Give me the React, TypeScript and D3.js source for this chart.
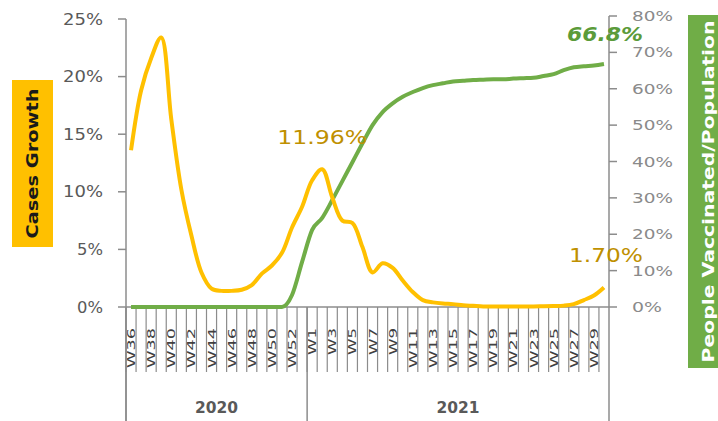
import React from "react";
import * as d3 from "d3";

const weeks2020 = ["W36","W37","W38","W39","W40","W41","W42","W43","W44","W45","W46","W47","W48","W49","W50","W51","W52","W53"];
const weeks2021 = ["W1","W2","W3","W4","W5","W6","W7","W8","W9","W10","W11","W12","W13","W14","W15","W16","W17","W18","W19","W20","W21","W22","W23","W24","W25","W26","W27","W28","W29","W30"];
const years = ["2020", "2021"];

const casesGrowth = [
  13.6, 18.8, 21.6, 23.4, 16.3, 10.2, 6.2, 3.0, 1.6, 1.4, 1.4, 1.5, 1.9, 2.9, 3.6, 4.7, 6.9, 8.7,
  11.0, 11.96, 9.5, 7.5, 7.3, 5.2, 3.0, 3.8, 3.4, 2.3, 1.3, 0.6, 0.4, 0.3, 0.25, 0.15, 0.1, 0.05,
  0.05, 0.05, 0.05, 0.05, 0.05, 0.06, 0.08, 0.12, 0.25, 0.6, 1.0, 1.70,
];
const vaccinated = [
  0, 0, 0, 0, 0, 0, 0, 0, 0, 0, 0, 0, 0, 0, 0, 0, 3.3, 12.4,
  21.2, 24.5, 29.4, 34.6, 39.8, 45, 50, 53.6, 56, 57.8, 59.1, 60.2, 61, 61.5, 62, 62.2, 62.4, 62.5,
  62.6, 62.6, 62.8, 62.9, 63.0, 63.5, 64.0, 65.1, 65.9, 66.2, 66.4, 66.8,
];

const leftTicks = [0, 5, 10, 15, 20, 25];
const rightTicks = [0, 10, 20, 30, 40, 50, 60, 70, 80];

const W = 718;
const H = 421;
const X0 = 126;
const X1 = 609;
const Y0 = 307;

export default function App() {
  const cats = [
    ...weeks2020.map((w) => ({ year: years[0], w, idx: 0 })),
    ...weeks2021.map((w) => ({ year: years[1], w, idx: 0 })),
  ];
  const inYear: Record<string, number> = {};
  cats.forEach((c) => {
    c.idx = inYear[c.year] ?? 0;
    inYear[c.year] = c.idx + 1;
  });
  const keys = cats.map((c) => c.year + "-" + c.w);
  const x = d3.scaleBand<string>().domain(keys).range([X0, X1]).padding(0);
  const bw = x.bandwidth();
  const cx = (i: number) => (x(keys[i]) as number) + bw / 2;

  const yL = d3.scaleLinear().domain([0, 25]).range([Y0, 19]);
  const yR = d3.scaleLinear().domain([0, 80]).range([Y0, 16]);

  const lineL = d3
    .line<number>()
    .x((_, i) => cx(i))
    .y((d) => yL(d))
    .curve(d3.curveCatmullRom.alpha(0.5));
  const lineR = d3
    .line<number>()
    .x((_, i) => cx(i))
    .y((d) => yR(d))
    .curve(d3.curveMonotoneX);

  const axisColor = "#8c8c8c";
  const yearStart = (yr: string) => x(keys[cats.findIndex((c) => c.year === yr)]) as number;
  const yearBounds = years.map((yr, i) => {
    const s = yearStart(yr);
    const e = i < years.length - 1 ? yearStart(years[i + 1]) : X1;
    return { yr, s, e };
  });

  const lastI = casesGrowth.length - 1;
  const peakI = casesGrowth.indexOf(d3.max(casesGrowth.slice(10)) as number);

  return (
    <svg
      width={W}
      height={H}
      style={{ position: "absolute", left: 0, top: 0, background: "#fff" }}
      fontFamily="'DejaVu Sans', sans-serif"
    >
      {/* Left axis title */}
      <rect x={12} y={80} width={41} height={167} fill="#FFC000" />
      <text
        transform={`translate(38,163.5) rotate(-90)`}
        textAnchor="middle"
        fontSize={16}
        fontWeight="bold"
        fill="#1a1a1a"
        textLength={150}
        lengthAdjust="spacingAndGlyphs"
      >
        Cases Growth
      </text>

      {/* Right axis title */}
      <rect x={688} y={15} width={40} height={353} fill="#70AD47" />
      <text
        transform={`translate(714,191.5) rotate(-90)`}
        textAnchor="middle"
        fontSize={16}
        fontWeight="bold"
        fill="#ffffff"
        textLength={342}
        lengthAdjust="spacingAndGlyphs"
      >
        People Vaccinated/Population
      </text>

      {/* Left axis */}
      <line x1={X0} x2={X0} y1={yL(25)} y2={H} stroke={axisColor} strokeWidth={1.5} />
      {leftTicks.map((t) => (
        <g key={"l" + t}>
          <line x1={X0 - 8} x2={X0} y1={yL(t)} y2={yL(t)} stroke={axisColor} strokeWidth={1.5} />
          <text
            x={103}
            y={yL(t) + 5.5}
            textAnchor="end"
            fontSize={15}
            fill="#595959"
            textLength={`${t}%`.length === 3 ? 40 : 26}
            lengthAdjust="spacingAndGlyphs"
          >
            {t}%
          </text>
        </g>
      ))}

      {/* Right axis */}
      <line x1={X1} x2={X1} y1={yR(80)} y2={H} stroke={axisColor} strokeWidth={1.5} />
      {rightTicks.map((t) => (
        <g key={"r" + t}>
          <line x1={X1} x2={X1 + 8} y1={yR(t)} y2={yR(t)} stroke={axisColor} strokeWidth={1.5} />
          <text
            x={632}
            y={yR(t) + 5}
            fontSize={14}
            fill="#8a8a8a"
            textLength={`${t}%`.length === 3 ? 41 : 30}
            lengthAdjust="spacingAndGlyphs"
          >
            {t}%
          </text>
        </g>
      ))}

      {/* Category axis */}
      <line x1={X0} x2={X1} y1={Y0} y2={Y0} stroke={axisColor} strokeWidth={1.5} />
      {keys.map((k, i) => (
        <line
          key={"d" + k}
          x1={x(k) as number}
          x2={x(k) as number}
          y1={Y0}
          y2={372}
          stroke={axisColor}
          strokeWidth={1.2}
        />
      ))}
      {cats.map((c, i) =>
        c.idx % 2 === 0 ? (
          <text
            key={"c" + i}
            transform={`translate(${cx(i) + 4},328) rotate(-90)`}
            textAnchor="end"
            fontSize={11}
            fill="#404040"
            textLength={c.w.length === 3 ? 40 : 27}
            lengthAdjust="spacingAndGlyphs"
          >
            {c.w}
          </text>
        ) : null
      )}
      {yearBounds.map((b) => (
        <g key={b.yr}>
          <line x1={b.s} x2={b.s} y1={Y0} y2={H} stroke={axisColor} strokeWidth={1.5} />
          <text
            x={(b.s + b.e) / 2}
            y={413}
            textAnchor="middle"
            fontSize={15}
            fontWeight="bold"
            fill="#595959"
            textLength={43}
            lengthAdjust="spacingAndGlyphs"
          >
            {b.yr}
          </text>
        </g>
      ))}

      {/* Series */}
      <path d={lineR(vaccinated) as string} fill="none" stroke="#70AD47" strokeWidth={4} strokeLinejoin="round" />
      <path d={lineL(casesGrowth) as string} fill="none" stroke="#FFC000" strokeWidth={4} strokeLinejoin="round" />

      {/* Data labels */}
      <text
        x={cx(peakI) + 45}
        y={yL(casesGrowth[peakI]) - 25}
        textAnchor="end"
        fontSize={20}
        fill="#BF9000"
        textLength={90}
        lengthAdjust="spacingAndGlyphs"
      >
        {casesGrowth[peakI].toFixed(2)}%
      </text>
      <text
        x={643}
        y={yL(casesGrowth[lastI]) - 25}
        textAnchor="end"
        fontSize={20}
        fill="#BF9000"
        textLength={74}
        lengthAdjust="spacingAndGlyphs"
      >
        {casesGrowth[lastI].toFixed(2)}%
      </text>
      <text
        x={643}
        y={yR(vaccinated[lastI]) - 23}
        textAnchor="end"
        fontSize={20}
        fontWeight="bold"
        fontStyle="italic"
        fill="#5B9B3A"
        textLength={76}
        lengthAdjust="spacingAndGlyphs"
      >
        {vaccinated[lastI].toFixed(1)}%
      </text>
    </svg>
  );
}
